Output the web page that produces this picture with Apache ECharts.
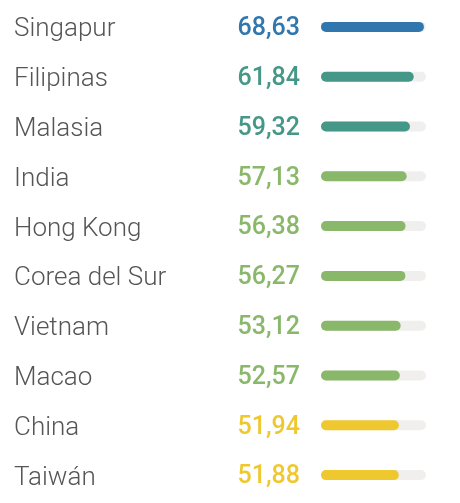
<!DOCTYPE html>
<html>
<head>
<meta charset="utf-8">
<script src="https://cdn.jsdelivr.net/npm/echarts@6/dist/echarts.min.js"></script>
<style>
  html, body { margin: 0; padding: 0; background: #fff; }
  #main { width: 460px; height: 503px; }
</style>
</head>
<body>
<div id="main"></div>
<script>
var paises = ['Singapur', 'Filipinas', 'Malasia', 'India', 'Hong Kong', 'Corea del Sur', 'Vietnam', 'Macao', 'China', 'Taiwán'];
var valores = [68.63, 61.84, 59.32, 57.13, 56.38, 56.27, 53.12, 52.57, 51.94, 51.88];
var colores = ['#3176ad', '#459788', '#459788', '#8ab86b', '#8ab86b', '#8ab86b', '#8ab86b', '#8ab86b', '#efc830', '#efc830'];

var myChart = echarts.init(document.getElementById('main'));

var datos = valores.map(function (v, i) {
    return {
        value: v,
        itemStyle: { color: colores[i] },
        label: { color: colores[i] }
    };
});

var option = {
    animation: false,
    grid: { left: 321, right: 34, top: 2, height: 498 },
    xAxis: {
        type: 'value',
        min: 0,
        max: 70,
        show: false
    },
    yAxis: {
        type: 'category',
        inverse: true,
        data: paises,
        axisLine: { show: false },
        axisTick: { show: false },
        axisLabel: {
            align: 'left',
            margin: 307,
            formatter: function (v) {
                return '{n|' + v + '}';
            },
            rich: {
                n: {
                    fontSize: 26,
                    fontWeight: 300,
                    fontFamily: 'Roboto',
                    color: '#555555',
                    padding: [6, 0, 0, 0]
                }
            }
        }
    },
    series: [{
        type: 'bar',
        data: datos,
        barWidth: 10,
        showBackground: true,
        backgroundStyle: { color: '#f0efed', borderRadius: 5 },
        itemStyle: { borderRadius: 5 },
        label: {
            show: true,
            position: 'left',
            distance: 21,
            offset: [0, 2],
            fontSize: 25,
            fontWeight: 500,
            fontFamily: 'Roboto',
            formatter: function (p) {
                return p.value.toFixed(2).replace('.', ',');
            }
        }
    }]
};

myChart.setOption(option);
</script>
</body>
</html>
